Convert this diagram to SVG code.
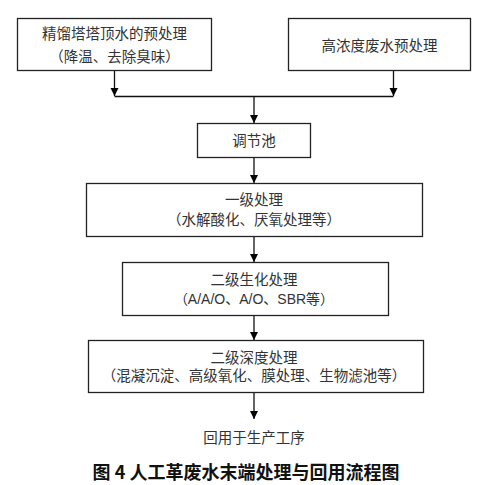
<svg xmlns="http://www.w3.org/2000/svg" width="491" height="485" viewBox="0 0 491 485">
<defs>
<marker id="ah" viewBox="0 0 10 10" refX="10" refY="5" markerWidth="8" markerHeight="10" markerUnits="userSpaceOnUse" orient="auto">
<path d="M0,0 L10,5 L0,10 Z" fill="#000"/>
</marker>
<style>
.box{fill:#fff;stroke:#222;stroke-width:1.3}
.t{font-family:"Liberation Serif","Noto Sans CJK SC",serif;font-size:14.5px;fill:#333;text-anchor:middle}
.s{font-family:"Liberation Sans","Noto Sans CJK SC",sans-serif;font-size:14px;fill:#333;text-anchor:middle}
.c{stroke:#111;stroke-width:1.3;fill:none}
.cap{font-family:"Noto Sans CJK SC",sans-serif;font-size:18px;font-weight:bold;fill:#111;text-anchor:middle}
</style>
</defs>
<rect width="491" height="485" fill="#fff"/>
<g id="connectors">
<line class="c" x1="114.5" y1="71" x2="114.5" y2="96" marker-end="url(#ah)"/>
<line class="c" x1="393.5" y1="71" x2="393.5" y2="96" marker-end="url(#ah)"/>
<line class="c" x1="114.5" y1="96.5" x2="393.5" y2="96.5"/>
<line class="c" x1="254" y1="96.5" x2="254" y2="123" marker-end="url(#ah)"/>
<line class="c" x1="254" y1="158" x2="254" y2="183" marker-end="url(#ah)"/>
<line class="c" x1="254" y1="237" x2="254" y2="262" marker-end="url(#ah)"/>
<line class="c" x1="254" y1="316" x2="254" y2="340" marker-end="url(#ah)"/>
<line class="c" x1="254" y1="393" x2="254" y2="419" marker-end="url(#ah)"/>
</g>
<g id="n1">
<rect class="box" x="17.5" y="18.5" width="194" height="52"/>
<text class="t" x="114.5" y="39">精馏塔塔顶水的预处理</text>
<text class="t" x="114.5" y="62">（降温、去除臭味）</text>
</g>
<g id="n2">
<rect class="box" x="288.5" y="18.5" width="182" height="52"/>
<text class="t" x="379.5" y="51">高浓度废水预处理</text>
</g>
<g id="n3">
<rect class="box" x="197.5" y="123.5" width="113" height="34"/>
<text class="t" x="254" y="145.5">调节池</text>
</g>
<g id="n4">
<rect class="box" x="86.5" y="183.5" width="336" height="53"/>
<text class="t" x="254" y="205">一级处理</text>
<text class="t" x="254" y="225">（水解酸化、厌氧处理等）</text>
</g>
<g id="n5">
<rect class="box" x="122.5" y="262.5" width="266" height="53"/>
<text class="t" x="254" y="285">二级生化处理</text>
<text class="s" x="254" y="304">（A/A/O、A/O、SBR等）</text>
</g>
<g id="n6">
<rect class="box" x="88.5" y="340.5" width="335" height="52"/>
<text class="t" x="254" y="363">二级深度处理</text>
<text class="t" x="254" y="381">（混凝沉淀、高级氧化、膜处理、生物滤池等）</text>
</g>
<g id="n7">
<text class="t" x="254" y="443">回用于生产工序</text>
</g>
<text class="cap" x="246" y="479">图 4  人工革废水末端处理与回用流程图</text>
</svg>
